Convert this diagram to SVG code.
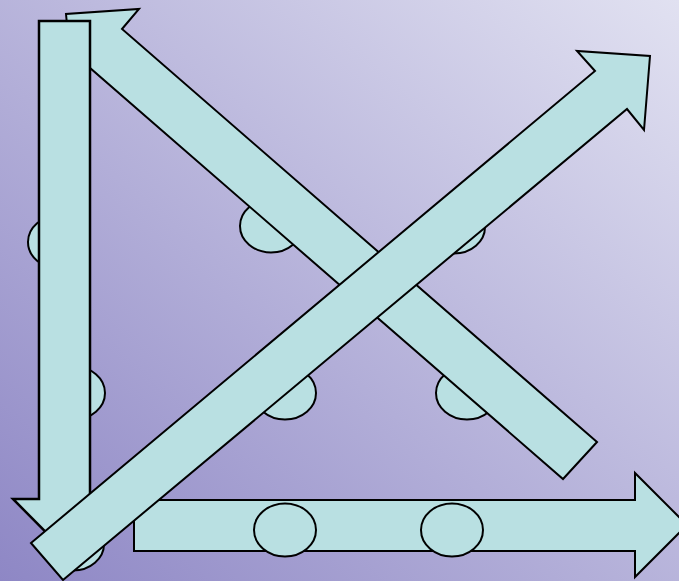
<svg xmlns="http://www.w3.org/2000/svg" width="679" height="581" viewBox="0 0 679 581">
  <defs>
    <linearGradient id="bg" x1="0" y1="1" x2="1" y2="0">
      <stop offset="0" stop-color="#8E87C5"/>
      <stop offset="1" stop-color="#E1E1F1"/>
    </linearGradient>
  </defs>
  <style>
    .shape { fill: #B9E0E2; stroke: #000; stroke-width: 2; stroke-linejoin: miter; }
    .thick { stroke-width: 2.5; }
  </style>
  <rect x="0" y="0" width="679" height="581" fill="url(#bg)"/>
  <g id="ellipses-under">
    <ellipse class="shape" cx="59" cy="242" rx="31" ry="26.5"/>
    <ellipse class="shape" cx="74" cy="393" rx="31" ry="26.5"/>
    <ellipse class="shape" cx="73" cy="544" rx="31" ry="26.5"/>
    <ellipse class="shape" cx="271" cy="226" rx="31" ry="26.5"/>
    <ellipse class="shape" cx="454" cy="227" rx="31" ry="26.5"/>
    <ellipse class="shape" cx="285" cy="393" rx="31" ry="26.5"/>
    <ellipse class="shape" cx="467" cy="393" rx="31" ry="26.5"/>
  </g>
  <g id="connectors">
    <g id="arrow-up-left">
      <polygon class="shape" points="597,442 122,29 139,9 66,14 73,87 90,68 563,479"/>
    </g>
    <g id="arrow-down">
      <polygon class="shape thick" points="39,21 90,21 90,499 116,499 64.5,551 13,499 39,499"/>
    </g>
    <g id="arrow-right">
      <polygon class="shape" points="134,500 635,500 635,473 687,525 635,577 635,551 134,551"/>
    </g>
  </g>
  <g id="ellipses-over">
    <ellipse class="shape" cx="285" cy="530" rx="31" ry="26.5"/>
    <ellipse class="shape" cx="452" cy="530" rx="31" ry="26.5"/>
  </g>
  <g id="arrow-up-right">
    <polygon class="shape" points="31,543 595,71 577,51 650,56 644,130 627,109 63,580"/>
  </g>
</svg>
